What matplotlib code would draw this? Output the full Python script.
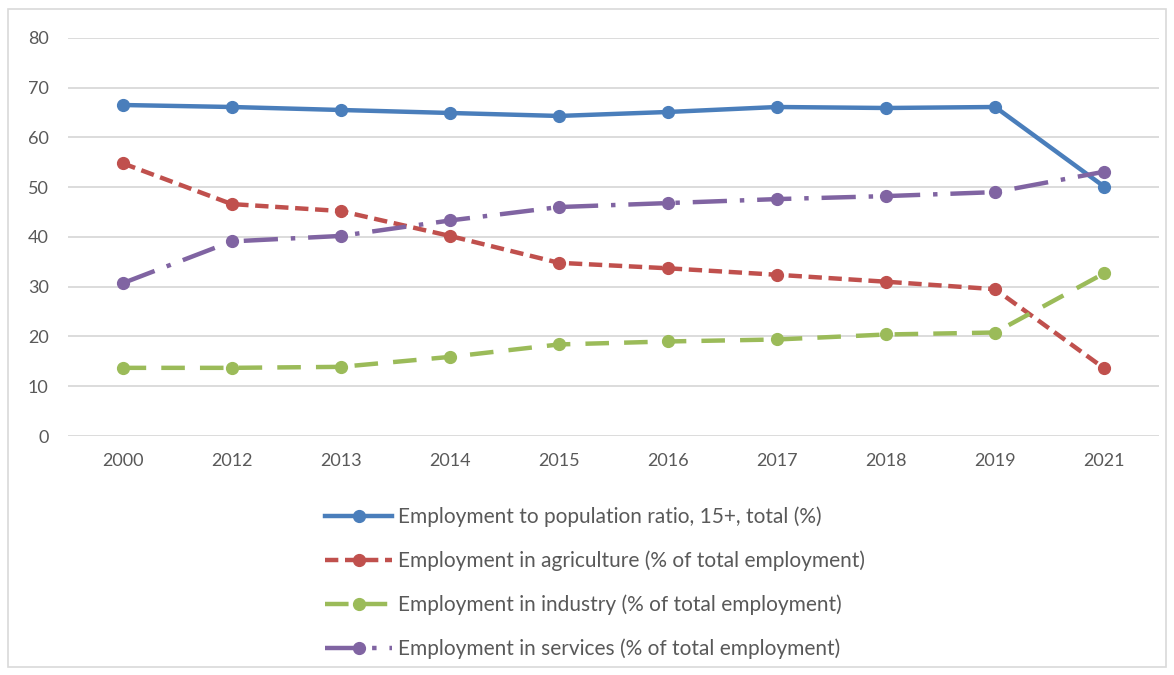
import matplotlib.pyplot as plt
import matplotlib.patches as patches
import numpy as np

years = ['2000', '2012', '2013', '2014', '2015', '2016', '2017', '2018', '2019', '2021']
emp_ratio = [66.5, 66.1, 65.5, 64.9, 64.3, 65.1, 66.1, 65.9, 66.1, 50.1]
agriculture = [54.8, 46.6, 45.2, 40.2, 34.8, 33.7, 32.4, 31.0, 29.5, 13.6]
industry = [13.7, 13.7, 13.9, 15.9, 18.4, 19.0, 19.4, 20.4, 20.8, 32.7]
services = [30.7, 39.1, 40.2, 43.3, 46.0, 46.8, 47.6, 48.2, 49.0, 53.1]

labels = ['Employment to population ratio, 15+, total (%)',
          'Employment in agriculture (% of total employment)',
          'Employment in industry (% of total employment)',
          'Employment in services (% of total employment)']

plt.rcParams['font.family'] = ['Lato', 'DejaVu Sans']

x = np.arange(len(years))

fig = plt.figure(figsize=(11.74, 6.75), dpi=100)
ax = fig.add_axes([0.058, 0.354, 0.929, 0.590])

lw = 3.2
ms = 8.5
ax.plot(x, emp_ratio, color='#4A7EBB', lw=lw, marker='o', ms=ms, label=labels[0])
ax.plot(x, agriculture, color='#C0504D', lw=lw, ls=(0, (3, 1.5)), marker='o', ms=ms, label=labels[1])
ax.plot(x, industry, color='#9BBB59', lw=lw, ls=(0, (5.3, 3.4)), marker='o', ms=ms, label=labels[2])
ax.plot(x, services, color='#8064A2', lw=lw, ls=(0, (7.7, 2.9, 1, 2.9)), marker='o', ms=ms, label=labels[3])

ax.set_xlim(-0.5, len(years) - 0.5)
ax.set_ylim(0, 80)
ax.set_yticks(range(0, 81, 10))
ax.set_xticks(x)
ax.set_xticklabels(years)
ax.grid(axis='y', color='#D9D9D9', lw=1.3)
ax.set_axisbelow(True)
for s in ax.spines.values():
    s.set_visible(False)
ax.tick_params(length=0, labelsize=13, colors='#595959', pad=12)
ax.tick_params(axis='y', pad=14)

leg = fig.legend(loc='upper left', bbox_to_anchor=(0.270, 0.262), frameon=False,
                 fontsize=15, handlelength=3.2, handletextpad=0.3, labelspacing=1.12,
                 borderaxespad=0, markerscale=1.0)
for t in leg.get_texts():
    t.set_color('#595959')

# chart border
fig.patches.append(patches.Rectangle((0.007, 0.012), 0.986, 0.974, transform=fig.transFigure,
                                     fill=False, edgecolor='#D9D9D9', lw=1.2))

plt.savefig('out.png', dpi=100)
